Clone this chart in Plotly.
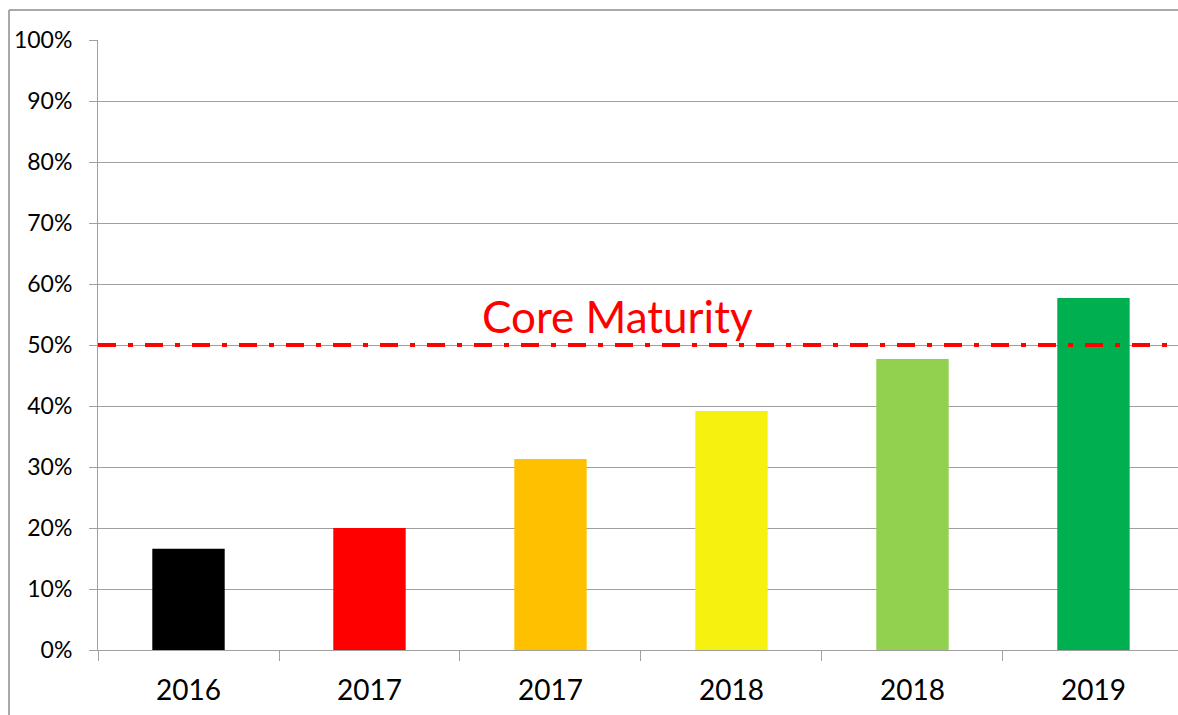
import plotly.graph_objects as go

# Maturity progression by assessment
labels = ["2016", "2017", "2017", "2018", "2018", "2019"]
values = [0.166, 0.200, 0.313, 0.392, 0.477, 0.577]
colors = ["#000000", "#FF0000", "#FFC000", "#F6F10F", "#92D050", "#00B050"]
core_maturity = 0.50
core_label = "Core Maturity"

positions = list(range(len(labels)))

FONT = "Lato, 'Open Sans', sans-serif"

fig = go.Figure()
fig.add_trace(go.Bar(
    x=positions,
    y=values,
    marker=dict(color=colors, line=dict(width=0)),
    width=0.4,
    hoverinfo="skip",
))

# Core maturity threshold line
fig.add_shape(
    type="line", xref="paper", yref="y",
    x0=0, x1=1, y0=core_maturity, y1=core_maturity,
    line=dict(color="#FF0000", width=4, dash="18px,12px,5px,12px"),
    layer="above",
)
fig.add_annotation(
    x=2.37, y=core_maturity, xref="x", yref="y",
    text=core_label, showarrow=False, yanchor="bottom", yshift=1,
    font=dict(family=FONT, size=44, color="#FF0000"),
)

# Outer chart frame (left and top edges), kept inside the canvas
frame_left = (9 - 98) / 1080
frame_top = 1 + 30 / 610
frame_bottom = -65 / 610
fig.add_shape(
    type="line", xref="paper", yref="paper",
    x0=frame_left, x1=frame_left, y0=frame_bottom, y1=frame_top,
    line=dict(color="#8c8c8c", width=1.5), layer="below",
)
fig.add_shape(
    type="line", xref="paper", yref="paper",
    x0=frame_left, x1=1.0, y0=frame_top, y1=frame_top,
    line=dict(color="#8c8c8c", width=1.5), layer="below",
)

fig.update_layout(
    width=1178, height=715,
    margin=dict(l=98, r=0, t=40, b=65),
    paper_bgcolor="white", plot_bgcolor="white",
    showlegend=False,
    font=dict(family=FONT, color="#000000"),
)
fig.update_xaxes(
    range=[-0.5, 5.467],
    tickmode="array", tickvals=positions, ticktext=labels,
    ticks="", showgrid=False,
    tickfont=dict(size=28, family=FONT),
    ticklabelstandoff=15,
    showline=True, linecolor="#a0a0a0", linewidth=1,
    minor=dict(tickmode="array", tickvals=[-0.5, 0.5, 1.5, 2.5, 3.5, 4.5],
               ticks="outside", ticklen=10, tickcolor="#a0a0a0", tickwidth=1),
    fixedrange=True,
)
fig.update_yaxes(
    range=[0, 1], tickvals=[i / 10 for i in range(11)], tickformat=".0%",
    ticks="outside", ticklen=8, tickcolor="#a0a0a0",
    showgrid=True, gridcolor="#a0a0a0", gridwidth=1,
    showline=True, linecolor="#a0a0a0", linewidth=1,
    tickfont=dict(size=23, family=FONT),
    ticklabelstandoff=12,
    zeroline=False,
    fixedrange=True,
)

fig.write_html("out.html", config={"displayModeBar": False})
